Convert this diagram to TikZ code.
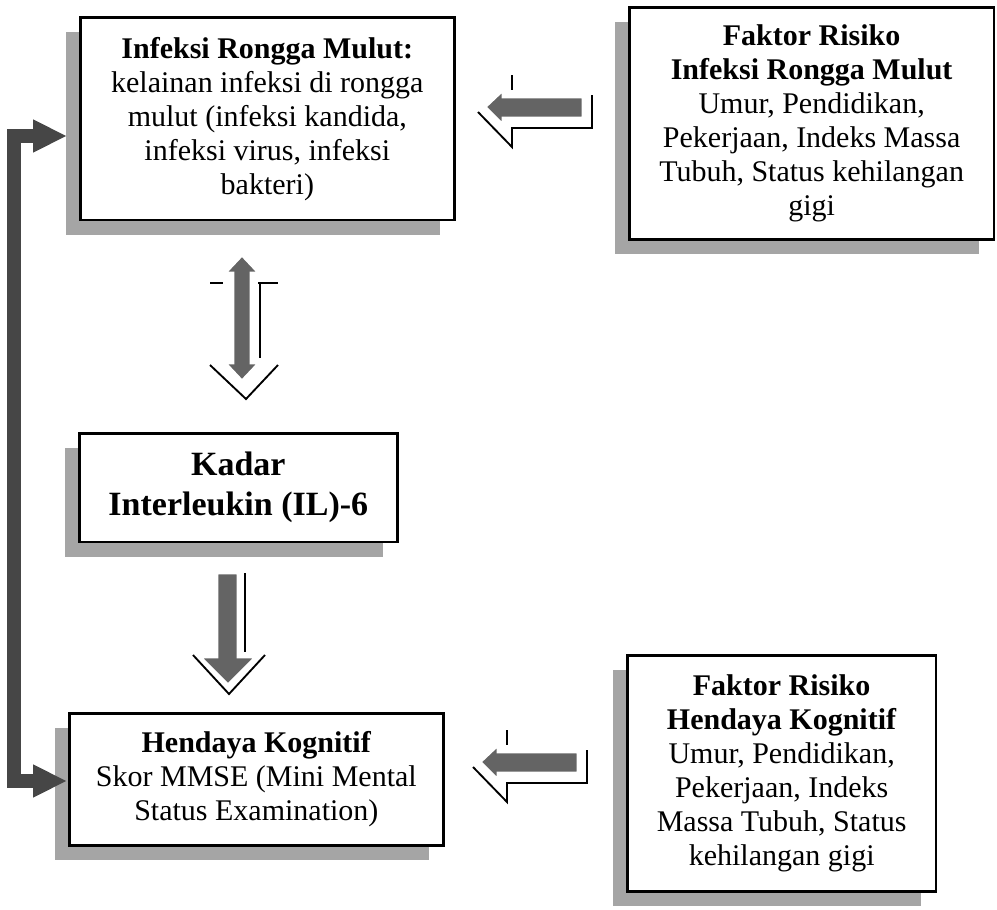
\documentclass[tikz,border=0pt]{standalone}
\usepackage{fontspec}
\setmainfont{Liberation Serif}
\usetikzlibrary{arrows.meta, positioning, calc, shadows}
\definecolor{shadegray}{RGB}{165, 165, 165}
\definecolor{arrowgray}{RGB}{100, 100, 100}
\definecolor{bargray}{RGB}{70, 70, 70}

\tikzset{
    leftblock/.pic={
        % offset outline behind the arrow
        \draw[line width=1.4pt] (27,-32) -- (27,-17);
        \draw[line width=1.4pt] (-7,5) -- (27,40) -- (27,21)
            -- (107,21) -- (107,-12);
        \filldraw[blockarrow] (0,0) -- (18,-17) -- (18,-10) -- (98,-10)
            -- (98,11) -- (18,11) -- (18,18) -- cycle;
    },
}

\begin{document}
\begin{tikzpicture}[
    x=0.75pt, y=-0.75pt,
    box/.style={draw, line width=2pt, fill=white, align=center,
                anchor=north west, inner sep=0pt,
                font=\fontsize{22.5}{25.5}\selectfont,
                drop shadow={shadow xshift=-11pt, shadow yshift=-11pt,
                             fill=shadegray, opacity=1}},
    blockarrow/.style={fill=arrowgray, draw=white, line width=2.2pt},
    outline/.style={line width=1.4pt},
]
\useasboundingbox (0,0) rectangle (997,910);

% -- Boxes --
\node[box, minimum width=280.5pt, minimum height=152pt] (infeksi)
    at (79,16) {\textbf{Infeksi Rongga Mulut:}\\kelainan infeksi di rongga\\
    mulut (infeksi kandida,\\infeksi virus, infeksi\\bakteri)};
\node[box, minimum width=273.5pt, minimum height=174pt] (faktorinf)
    at (628,6) {\textbf{Faktor Risiko}\\\textbf{Infeksi Rongga Mulut}\\
    Umur, Pendidikan,\\Pekerjaan, Indeks Massa\\Tubuh, Status kehilangan\\gigi};
\node[box, minimum width=238.5pt, minimum height=81.5pt,
      font=\fontsize{25.5}{30}\selectfont\bfseries] (kadar)
    at (78,432) {Kadar\\Interleukin (IL)-6};
\node[box, minimum width=280.5pt, minimum height=99pt] (hendaya)
    at (68,712) {\textbf{Hendaya Kognitif}\\Skor MMSE (Mini Mental\\
    Status Examination)};
\node[box, minimum width=231.5pt, minimum height=177pt] (faktorkog)
    at (626,654) {\textbf{Faktor Risiko}\\\textbf{Hendaya Kognitif}\\
    Umur, Pendidikan,\\Pekerjaan, Indeks\\Massa Tubuh, Status\\kehilangan gigi};

% -- Risk factor arrows --
\pic at (485,107) {leftblock};
\pic at (480,762) {leftblock};

% -- Infeksi <-> Kadar --
\draw[outline] (210,283) -- (223,283);
\draw[outline] (258,283) -- (278,283);
\draw[outline] (260,283) -- (260,358);
\draw[outline] (210,365) -- (246,399) -- (278,365);
\filldraw[blockarrow] (242,255) -- (259,273) -- (251,273) -- (251,363)
    -- (259,363) -- (242,381) -- (225,363) -- (233,363) -- (233,273)
    -- (225,273) -- cycle;

% -- Kadar -> Hendaya --
\draw[outline] (245,573) -- (245,652);
\draw[outline] (193,655) -- (229,694) -- (265,655);
\filldraw[blockarrow] (217,573) -- (238,573) -- (238,657) -- (256,657)
    -- (228,685) -- (200,657) -- (217,657) -- cycle;

% -- Long link between Hendaya and Infeksi --
\coordinate (inA) at ($(infeksi.north west)+(-12,120)$);
\coordinate (inB) at ($(hendaya.north west)+(-1,69)$);
\coordinate (bar) at (14,0);
\draw[bargray, line width=10.5pt,
      {Triangle[length=25.5pt, width=23pt]}-{Triangle[length=25.5pt, width=23pt]}]
    (inA) -- (inA -| bar) -- (inB -| bar) -- (inB);

\end{tikzpicture}
\end{document}
